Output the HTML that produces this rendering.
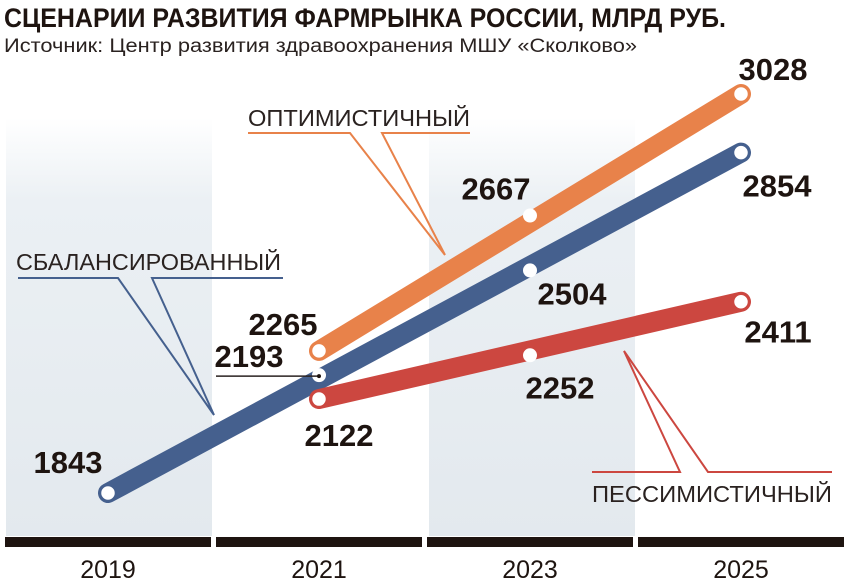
<!DOCTYPE html>
<html><head><meta charset="utf-8"><style>
html,body{margin:0;padding:0;background:#fff}
svg{display:block}
.t{font-family:"Liberation Sans Narrow","Liberation Sans",sans-serif}
</style></head><body>
<svg id="chart" width="850" height="579" viewBox="0 0 850 579">
<defs>
<linearGradient id="bg" x1="0" y1="0" x2="0" y2="1">
<stop offset="0" stop-color="#e6ecf1" stop-opacity="0"/>
<stop offset="0.2" stop-color="#e6ecf1" stop-opacity="0.8"/>
<stop offset="1" stop-color="#e3e9ee"/>
</linearGradient>
</defs>
<text class="t" x="4" y="27" font-size="27" font-weight="bold" fill="#1e1410" textLength="722" lengthAdjust="spacingAndGlyphs">СЦЕНАРИИ РАЗВИТИЯ ФАРМРЫНКА РОССИИ, МЛРД РУБ.</text>
<text class="t" x="4" y="52" font-size="19" fill="#2a2220" textLength="633" lengthAdjust="spacingAndGlyphs">Источник: Центр развития здравоохранения МШУ «Сколково»</text>
<rect x="6" y="118" width="206" height="418" fill="url(#bg)"/>
<rect x="429" y="118" width="206" height="418" fill="url(#bg)"/>
<g id="axis"></g>
<g id="ann"></g>
<g id="series"></g>
<g id="labels"></g>
</svg>
<script>
const years = ["2019","2021","2023","2025"];
const balanced = [1843, 2193, 2504, 2854];
const optimistic = [null, 2265, 2667, 3028];
const pessimistic = [null, 2122, 2252, 2411];
const NS = "http://www.w3.org/2000/svg";
function x(i){ return 108 + i * 211; }
function y(v){ return 493 - (v - 1843) * (399 / 1185); }
function mk(tag, attrs, parent){ const e = document.createElementNS(NS, tag); for (const k in attrs) e.setAttribute(k, attrs[k]); parent.appendChild(e); return e; }
const axis = document.getElementById('axis');
years.forEach((yr, i) => {
  const r = mk('rect', {x: x(i) - 103, y: 537, width: 206, height: 10, fill: '#1e1410'}, axis);
  
  
  const t = mk('text', {x: x(i), y: 578, 'font-size': 25, 'text-anchor': 'middle', fill: '#1e1410', class: 't'}, axis);
  t.textContent = yr;
  
  
});
const ann = document.getElementById('ann');
function annot(name, text, tx, ty, ux1, ux2, uy, legs, color){
  const t = mk('text', {x: tx, y: ty, 'font-size': 23, fill: '#2a2220', class: 't', textLength: ux2 - ux1, lengthAdjust: 'spacingAndGlyphs'}, ann);
  t.textContent = text;
  
  
  const p = mk('polyline', {points: ux1+','+uy+' '+legs[0]+','+uy+' '+legs[2]+','+legs[3]+' '+legs[1]+','+uy+' '+ux2+','+uy, fill: 'none', stroke: color, 'stroke-width': 2}, ann);
  
  
}
annot('optimistic', 'ОПТИМИСТИЧНЫЙ', 248, 126, 248, 470, 133, [350, 382, 445, 255], '#e8824a');
annot('balanced', 'СБАЛАНСИРОВАННЫЙ', 16, 270, 18, 283, 278, [118, 152, 214, 415], '#45608e');
annot('pessimistic', 'ПЕССИМИСТИЧНЫЙ', 592, 502, 592, 832, 472, [680, 708, 624, 351], '#cc4740');
const series = document.getElementById('series');
function drawSeries(name, vals, color){
  const pts = [];
  vals.forEach((v, i) => { if (v !== null) pts.push([x(i), y(v)]); });
  const l = mk('line', {x1: pts[0][0], y1: pts[0][1], x2: pts[pts.length-1][0], y2: pts[pts.length-1][1], stroke: color, 'stroke-width': 20, 'stroke-linecap': 'round'}, series);
  
  
  pts.forEach((p, k) => {
    const end = (k === 0 || k === pts.length - 1);
    const c = mk('circle', {cx: p[0], cy: p[1], r: end ? 7.5 : 7, fill: '#fff', stroke: end ? color : 'none', 'stroke-width': 1.5}, series);
    
    
  });
}
drawSeries('balanced', balanced, '#45608e');
drawSeries('pessimistic', pessimistic, '#cc4740');
drawSeries('optimistic', optimistic, '#e8824a');
// 2193 pointer
const ptr = mk('line', {x1: 216, y1: y(balanced[1]) + 1, x2: x(1), y2: y(balanced[1]) + 1, stroke: '#2a2220', 'stroke-width': 1.5}, series);


const dot = mk('circle', {cx: x(1), cy: y(balanced[1]) + 1, r: 2, fill: '#1e1410'}, series);


const labels = document.getElementById('labels');
// label offsets relative to points
const offs = {
  balanced: [[-40, -20], [-70, -8], [42, 34], [36, 44]],
  optimistic: [null, [-36, -16], [-34, -16], [32, -14]],
  pessimistic: [null, [20, 47], [30, 43], [37, 41]]
};
function lab(name, vals){
  vals.forEach((v, i) => {
    if (v === null) return;
    const o = offs[name][i];
    const t = mk('text', {x: x(i) + o[0], y: y(v) + o[1], 'font-size': 31, 'font-weight': 'bold', 'text-anchor': 'middle', fill: '#1e1410', class: 't'}, labels);
    t.textContent = v;
    
    
  });
}
lab('balanced', balanced);
lab('optimistic', optimistic);
lab('pessimistic', pessimistic);
</script>
</body></html>
